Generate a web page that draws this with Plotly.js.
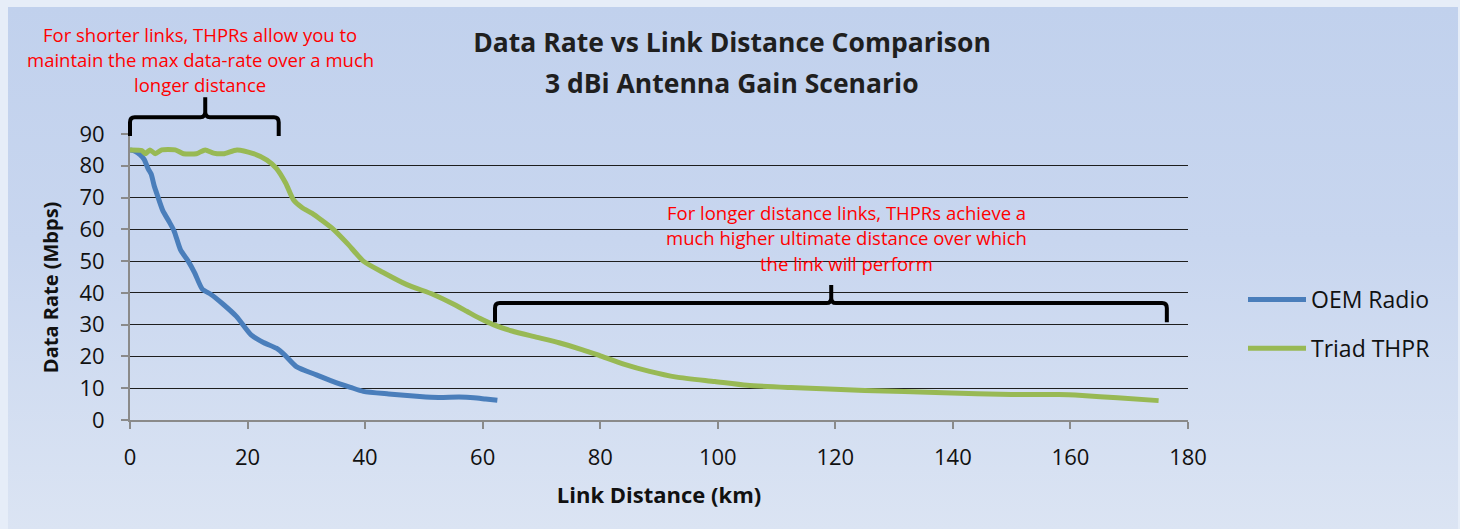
<!DOCTYPE html>
<html>
<head>
<meta charset="utf-8">
<script src="https://cdn.plot.ly/plotly-3.0.1.min.js"></script>
<style>
  html, body { margin: 0; padding: 0; }
  body { width: 1460px; height: 529px; background: #e6edf8; position: relative; overflow: hidden; }
  #bg { position: absolute; left: 8px; top: 7px; width: 1450px; height: 522px;
        background: linear-gradient(to bottom, #c1d1ed 0%, #c8d6ef 45%, #dbe4f3 100%); }
  #chart { position: absolute; left: 0; top: 0; width: 1460px; height: 529px; }
</style>
</head>
<body>
<div id="bg"></div>
<div id="chart"></div>
<script>
// ---- Data ----
const oemDistance = [0, 0.85, 1.7, 2.4, 3.1, 3.6, 4.1, 4.7, 5.6, 6.6, 7.5, 8.6, 9.9, 11.0, 12.3, 13.8, 15.8, 18.1, 20.6, 22.7, 24.9, 26.3, 28.3, 31.7, 34.6, 37.5, 39.7, 44.0, 49.3, 52.5, 56.0, 58.5, 60.5, 62.5];
const oemRate     = [85, 84.6, 83.5, 82.0, 79.0, 77.4, 73.8, 70.5, 65.8, 62.6, 59.5, 53.5, 50.0, 46.3, 41.2, 39.5, 36.5, 32.6, 26.8, 24.4, 22.6, 20.5, 16.8, 14.2, 12.1, 10.3, 9.0, 8.2, 7.4, 7.1, 7.2, 7.0, 6.6, 6.2];

const thprDistance = [0, 2.0, 2.6, 3.4, 4.3, 5.4, 7.7, 9.1, 11.3, 12.8, 14.2, 15.9, 18.2, 21.0, 23.3, 24.9, 26.5, 27.8, 29.3, 31.0, 32.5, 34.6, 37.0, 39.7, 43.0, 47.1, 51.6, 55.0, 57.3, 59.5, 61.8, 65.0, 68.6, 73.0, 77.0, 80.0, 84.0, 88.4, 93.0, 99.5, 105.0, 112.5, 125.0, 138.4, 150.0, 158.0, 162.0, 168.0, 175.0];
const thprRate     = [85, 84.8, 83.8, 85, 83.8, 85, 85, 83.8, 83.8, 85, 84.0, 83.8, 85, 83.8, 81.8, 79.2, 74.5, 69.3, 66.8, 65.0, 63.0, 60.0, 55.5, 50.0, 46.5, 42.6, 39.5, 36.5, 34.2, 32.0, 30.0, 28.0, 26.3, 24.3, 22.1, 20.2, 17.6, 15.3, 13.5, 12.1, 10.9, 10.2, 9.3, 8.6, 8.0, 8.0, 7.7, 7.0, 6.1];

const seriesNames = ["OEM Radio", "Triad THPR"];
const xTickValues = [0, 20, 40, 60, 80, 100, 120, 140, 160, 180];
const yTickValues = [0, 10, 20, 30, 40, 50, 60, 70, 80, 90];

const titleLines = ["Data Rate vs Link Distance Comparison", "3 dBi Antenna Gain Scenario"];
const xTitle = "Link Distance (km)";
const yTitle = "Data Rate (Mbps)";
const noteShort = ["For shorter links, THPRs allow you to", "maintain the max data-rate over a much", "longer distance"];
const noteLong = ["For longer distance links, THPRs achieve a", "much higher ultimate distance over which", "the link will perform"];

// ---- Layout helpers ----
const W = 1460, H = 529;
const M = { l: 130, r: 272, t: 134, b: 109 };
const plotW = W - M.l - M.r, plotH = H - M.t - M.b;
const X_RANGE = [0, 180], Y_RANGE = [0, 90];
const pxX = px => (px - M.l) / plotW;          // page px -> paper x
const pxY = py => (H - M.b - py) / plotH;      // page px -> paper y
const dX = v => (v - X_RANGE[0]) / (X_RANGE[1] - X_RANGE[0]); // data -> paper
const dY = v => (v - Y_RANGE[0]) / (Y_RANGE[1] - Y_RANGE[0]);

function brace(x0, x1, xm, yEnd, yTop, ySpike) {
  const rx = 0.8, ry = 1.6;
  const P = (x, y) => dX(x).toFixed(5) + ',' + dY(y).toFixed(5);
  return 'M' + P(x0, yEnd) + ' L' + P(x0, yTop - ry) +
         ' Q' + P(x0, yTop) + ' ' + P(x0 + rx, yTop) +
         ' L' + P(xm - rx, yTop) +
         ' Q' + P(xm, yTop) + ' ' + P(xm, yTop + ry) +
         ' L' + P(xm, ySpike) +
         ' M' + P(xm, yTop + ry) +
         ' Q' + P(xm, yTop) + ' ' + P(xm + rx, yTop) +
         ' L' + P(x1 - rx, yTop) +
         ' Q' + P(x1, yTop) + ' ' + P(x1, yTop - ry) +
         ' L' + P(x1, yEnd);
}

const FONT = "'Open Sans', 'Noto Sans', sans-serif";
const TXT = '#111111';

const traces = [
  { x: oemDistance, y: oemRate, name: seriesNames[0], type: 'scatter', mode: 'lines',
    line: { color: '#4a7ebb', width: 5, shape: 'spline', smoothing: 0.6 }, legendgroup: 'a' },
  { x: thprDistance, y: thprRate, name: seriesNames[1], type: 'scatter', mode: 'lines',
    line: { color: '#98b954', width: 5, shape: 'spline', smoothing: 0.6 }, legendgroup: 'b' }
];

const annotations = [];
noteShort.forEach((t, i) => annotations.push({
  text: t, xref: 'paper', yref: 'paper', x: pxX(200), y: pxY(34.5 + 25 * i),
  xanchor: 'center', yanchor: 'middle', showarrow: false,
  font: { family: FONT, size: 18.5, color: '#ff0000' }
}));
noteLong.forEach((t, i) => annotations.push({
  text: t, xref: 'paper', yref: 'paper', x: pxX(846), y: pxY(212 + 25.5 * i),
  xanchor: 'center', yanchor: 'middle', showarrow: false,
  font: { family: FONT, size: 18.5, color: '#ff0000' }
}));
annotations.push({
  text: '<b>' + titleLines[1] + '</b>', xref: 'paper', yref: 'paper', x: pxX(732), y: pxY(83),
  xanchor: 'center', yanchor: 'middle', showarrow: false,
  font: { family: FONT, size: 26.5, color: '#1f1f1f' }
});

const layout = {
  width: W, height: H,
  margin: M,
  paper_bgcolor: 'rgba(0,0,0,0)',
  plot_bgcolor: 'rgba(0,0,0,0)',
  title: { text: '<b>' + titleLines[0] + '</b>', x: 732 / W, xanchor: 'center', xref: 'container',
           y: 1 - 43 / H, yanchor: 'middle', yref: 'container',
           font: { family: FONT, size: 26.5, color: '#1f1f1f' } },
  xaxis: {
    range: X_RANGE, tickvals: xTickValues, ticktext: xTickValues.map(String),
    showgrid: false, zeroline: false, showline: true, linecolor: '#8a8a8a', linewidth: 2,
    ticks: 'outside', ticklen: 7, tickwidth: 2, tickcolor: '#8a8a8a', ticklabelstandoff: 10,
    tickfont: { family: FONT, size: 22, color: TXT },
    title: { text: '<b>' + xTitle + '</b>', standoff: 17, font: { family: FONT, size: 22, color: TXT } },
    automargin: false, fixedrange: true
  },
  yaxis: {
    range: Y_RANGE, tickvals: yTickValues, ticktext: yTickValues.map(String),
    showgrid: true, gridcolor: '#1e1e1e', gridwidth: 1,
    zeroline: false, showline: true, linecolor: '#8a8a8a', linewidth: 2,
    ticks: 'outside', ticklen: 7, tickwidth: 2, tickcolor: '#8a8a8a', ticklabelstandoff: 12,
    tickfont: { family: FONT, size: 22, color: TXT },
    title: { text: '<b>' + yTitle + '&nbsp;&nbsp;&nbsp;&nbsp;</b>', standoff: 15, font: { family: FONT, size: 20, color: TXT } },
    automargin: false, fixedrange: true
  },
  showlegend: true,
  legend: {
    xref: 'container', yref: 'container', x: 1243 / W, y: 1 - 278 / H,
    xanchor: 'left', yanchor: 'top', bgcolor: 'rgba(0,0,0,0)', borderwidth: 0,
    font: { family: FONT, size: 23, color: TXT },
    traceorder: 'grouped', tracegroupgap: 16, itemwidth: 58
  },
  shapes: [
    { type: 'path', xref: 'paper', yref: 'paper', path: brace(0, 25.3, 12.8, 89.4, 95.3, 101.6),
      line: { color: '#000000', width: 4 } },
    { type: 'path', xref: 'paper', yref: 'paper', path: brace(62.1, 176.4, 119.3, 30.8, 36.8, 42.5),
      line: { color: '#000000', width: 4 } }
  ],
  annotations: annotations
};

Plotly.newPlot('chart', traces, layout, { displayModeBar: false, staticPlot: true });
</script>
</body>
</html>
